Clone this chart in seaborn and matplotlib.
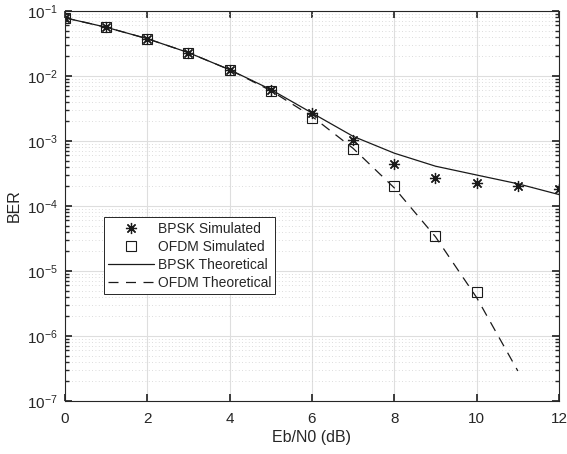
import numpy as np
import pandas as pd
import matplotlib
matplotlib.use("Agg")
import matplotlib.pyplot as plt
import seaborn as sns
from matplotlib.ticker import LogLocator, NullFormatter

# datos
ebn0_sim = [0, 1, 2, 3, 4, 5, 6, 7, 8, 9, 10, 11, 12]
bpsk_sim = [0.079, 0.056, 0.0375, 0.0229, 0.0125, 0.0061, 0.0027, 0.00105,
            0.00044, 0.00027, 0.00023, 0.00020, 0.00018]

ebn0_ofdm = [0, 1, 2, 3, 4, 5, 6, 7, 8, 9, 10]
ofdm_sim = [0.079, 0.056, 0.0375, 0.0229, 0.0125, 0.0058, 0.0023, 0.00075,
            0.00020, 3.4e-5, 4.8e-6]

ebn0_bpsk_th = [0, 1, 2, 3, 4, 5, 6, 7, 8, 9, 10, 11, 12]
bpsk_th = [0.0786, 0.0563, 0.0375, 0.0229, 0.0125, 0.0062, 0.0027, 0.00118,
           0.00065, 0.00041, 0.00030, 0.00022, 0.00015]

ebn0_ofdm_th = [0, 1, 2, 3, 4, 5, 6, 7, 8, 9, 10, 11]
ofdm_th = [0.0786, 0.0563, 0.0375, 0.0229, 0.0125, 0.00595, 0.00239, 0.00077,
           0.00019, 3.36e-5, 3.9e-6, 2.9e-7]

sns.set_theme(style="white")
plt.rcParams['font.family'] = ['Liberation Sans', 'DejaVu Sans']
plt.rcParams['mathtext.fontset'] = 'custom'
plt.rcParams['mathtext.rm'] = 'Liberation Sans'
plt.rcParams['mathtext.it'] = 'Liberation Sans:italic'
plt.rcParams['mathtext.bf'] = 'Liberation Sans:bold'
plt.rcParams['font.size'] = 10

fig = plt.figure(figsize=(5.67, 4.54), dpi=100)
ax = fig.add_axes([0.1146, 0.1167, 0.8713, 0.859])

df_bs = pd.DataFrame({'x': ebn0_sim, 'y': bpsk_sim})
df_os = pd.DataFrame({'x': ebn0_ofdm, 'y': ofdm_sim})
df_bt = pd.DataFrame({'x': ebn0_bpsk_th, 'y': bpsk_th})
df_ot = pd.DataFrame({'x': ebn0_ofdm_th, 'y': ofdm_th})

sns.lineplot(data=df_bs, x='x', y='y', ax=ax, color='k', linestyle='none',
             marker=(8, 2, 0), markersize=8, mew=0.9, mec='k',
             label='BPSK Simulated')
sns.lineplot(data=df_os, x='x', y='y', ax=ax, color='k', linestyle='none',
             marker='s', markersize=7, mew=0.8, mfc='none', mec='k',
             label='OFDM Simulated')
sns.lineplot(data=df_bt, x='x', y='y', ax=ax, color='k', linewidth=0.9,
             label='BPSK Theoretical')
sns.lineplot(data=df_ot, x='x', y='y', ax=ax, color='k', linewidth=0.9,
             label='OFDM Theoretical')
ax.lines[-1].set_dashes([8, 6])

ax.set_yscale('log')
ax.set_xlim(0, 12)
ax.set_ylim(1e-7, 1e-1)
ax.set_xticks([0, 2, 4, 6, 8, 10, 12])
ax.yaxis.set_major_locator(LogLocator(base=10, numticks=10))
ax.yaxis.set_minor_locator(LogLocator(base=10, subs=np.arange(2, 10), numticks=20))
ax.yaxis.set_minor_formatter(NullFormatter())

ax.grid(True, which='major', color='#dedede', linewidth=0.8, linestyle='-')
ax.grid(True, which='minor', axis='y', color='#d0d0d0', linewidth=0.6, linestyle=(0, (1, 3)))
ax.set_axisbelow(True)

for s in ax.spines.values():
    s.set_color('#262626')
    s.set_linewidth(0.8)
ax.tick_params(which='both', direction='in', top=True, right=True, bottom=True, left=True,
               colors='#262626', labelsize=11)
ax.tick_params(axis='x', pad=8)
ax.tick_params(axis='y', pad=5)
ax.tick_params(which='major', length=5)
ax.tick_params(which='minor', length=3)

ax.set_xlabel('Eb/N0 (dB)', fontsize=11.5, color='#262626', labelpad=3)
ax.set_ylabel('BER', fontsize=11.5, color='#262626', labelpad=4)

leg = ax.legend(loc='lower left', bbox_to_anchor=(0.064, 0.256), fancybox=False,
                framealpha=1, edgecolor='#262626', fontsize=10, handlelength=3.3,
                borderpad=0.3, labelspacing=0.3, handletextpad=0.3)
leg.get_frame().set_linewidth(0.7)

fig.savefig('out.png', dpi=100)
plt.close(fig)
